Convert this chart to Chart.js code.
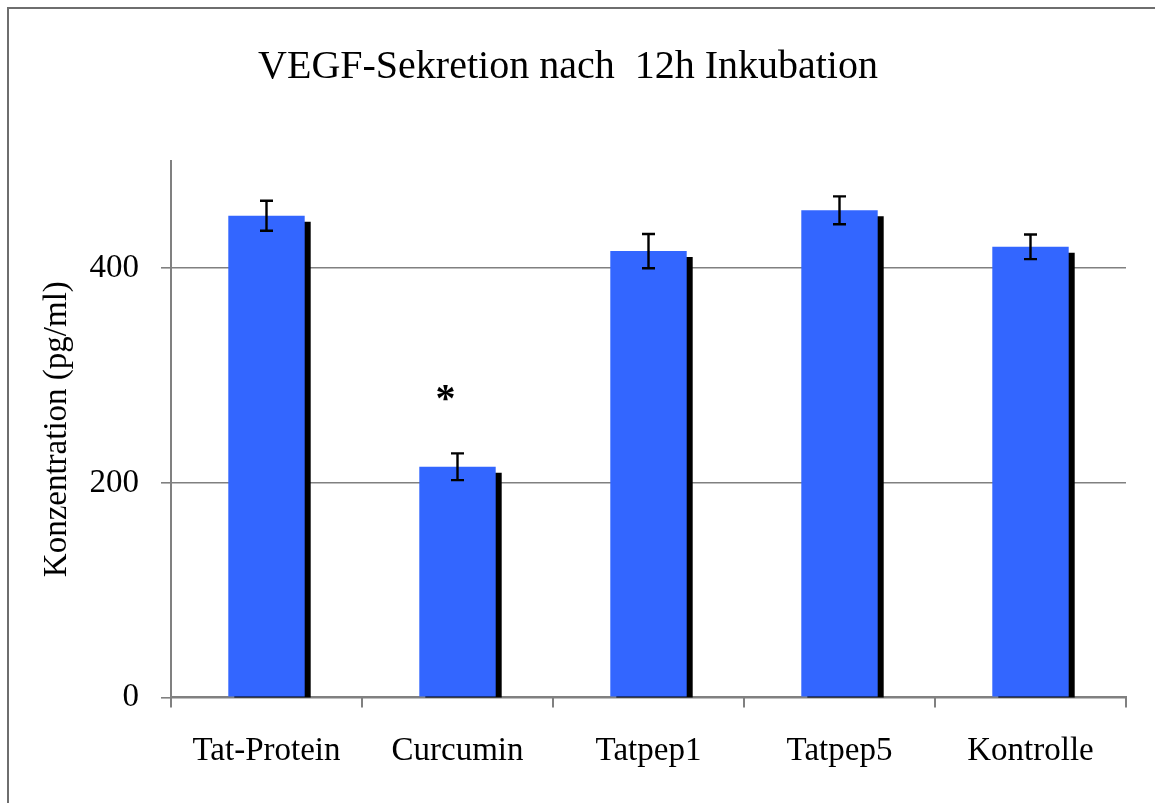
<!DOCTYPE html>
<html>
<head>
<meta charset="utf-8">
<title>VEGF-Sekretion</title>
<script src="https://cdn.jsdelivr.net/npm/chart.js@4"></script>
<style>
  body { margin: 0; background: #fff; }
  #wrap { width: 1155px; height: 803px; }
</style>
</head>
<body>
<div id="wrap"><canvas id="vegfChart" width="1155" height="803"></canvas></div>
<script>
// --- data ---
const categories = ['Tat-Protein', 'Curcumin', 'Tatpep1', 'Tatpep5', 'Kontrolle'];
const concentration = [449, 215, 416, 454, 420];   // pg/ml
const stdError = [14, 12.5, 16, 13, 11.5];
const yTicks = [0, 200, 400];
const significant = ['Curcumin'];   // marked with *
const starLevel = 274;              // where the * sits on the y scale

const serif = "'Liberation Serif', 'Times New Roman', serif";
const axisGray = '#808080';

// thin frame at top and left, like the original figure
const framePlugin = {
  id: 'frame',
  beforeDraw(chart) {
    const c = chart.ctx;
    c.save();
    c.strokeStyle = '#6e6e6e';
    c.lineWidth = 2;
    c.beginPath();
    c.moveTo(8, chart.height);
    c.lineTo(8, 8);
    c.lineTo(chart.width, 8);
    c.stroke();
    c.restore();
  }
};

// black drop shadow behind the bars
const shadowPlugin = {
  id: 'barShadow',
  beforeDatasetDraw(chart) {
    const c = chart.ctx;
    c.save();
    c.shadowColor = '#000';
    c.shadowOffsetX = 6;
    c.shadowOffsetY = 6;
    c.shadowBlur = 0;
  },
  afterDatasetDraw(chart) {
    chart.ctx.restore();
  }
};

// error bars + significance star
const errorPlugin = {
  id: 'errorBars',
  afterDatasetsDraw(chart) {
    const c = chart.ctx;
    const y = chart.scales.y;
    const x = chart.scales.x;
    const meta = chart.getDatasetMeta(0);
    c.save();
    c.strokeStyle = '#000';
    c.lineWidth = 2.4;
    meta.data.forEach((bar, i) => {
      const hi = y.getPixelForValue(concentration[i] + stdError[i]);
      const lo = y.getPixelForValue(concentration[i] - stdError[i]);
      c.beginPath();
      c.moveTo(bar.x, hi); c.lineTo(bar.x, lo);
      c.moveTo(bar.x - 6.5, hi); c.lineTo(bar.x + 6.5, hi);
      c.moveTo(bar.x - 6.5, lo); c.lineTo(bar.x + 6.5, lo);
      c.stroke();
    });
    // asterisk, glyph box centred on the target point
    c.fillStyle = '#000';
    c.font = 'bold 40px ' + serif;
    c.textAlign = 'center';
    c.textBaseline = 'alphabetic';
    significant.forEach(name => {
      const i = categories.indexOf(name);
      const cx = x.getPixelForValue(i) - 12;
      const cy = y.getPixelForValue(starLevel);
      const m = c.measureText('*');
      const h = m.actualBoundingBoxAscent - m.actualBoundingBoxDescent;
      c.fillText('*', cx, cy + m.actualBoundingBoxAscent - h / 2);
    });
    c.restore();
  }
};

new Chart(document.getElementById('vegfChart'), {
  type: 'bar',
  data: {
    labels: categories,
    datasets: [{
      data: concentration,
      backgroundColor: '#3366ff',
      borderWidth: 0,
      categoryPercentage: 1,
      barPercentage: 0.4
    }]
  },
  options: {
    responsive: false,
    animation: false,
    events: [],
    layout: { padding: { left: 10, right: 29, top: 0, bottom: 8 } },
    plugins: {
      legend: { display: false },
      tooltip: { enabled: false },
      title: {
        display: true,
        text: 'VEGF-Sekretion nach  12h Inkubation',
        color: '#000',
        font: { family: serif, size: 40, weight: 'normal' },
        padding: { top: 43, bottom: 70 }
      }
    },
    scales: {
      x: {
        grid: { drawOnChartArea: false, tickLength: 10, color: axisGray, lineWidth: 2, offset: true },
        border: { color: axisGray, width: 2 },
        ticks: { color: '#000', font: { family: serif, size: 33 }, padding: 24, maxRotation: 0 }
      },
      y: {
        min: 0,
        max: 500,
        afterBuildTicks(scale) { scale.ticks = yTicks.map(v => ({ value: v })); },
        afterFit(scale) { scale.width = 161; },
        grid: { color: axisGray, lineWidth: 1.6, tickLength: 10 },
        border: { color: axisGray, width: 2 },
        ticks: { color: '#000', font: { family: serif, size: 33 }, padding: 22 },
        title: {
          display: true,
          text: 'Konzentration (pg/ml)',
          color: '#000',
          font: { family: serif, size: 33 },
          padding: { top: 28, bottom: 0 }
        }
      }
    }
  },
  plugins: [framePlugin, shadowPlugin, errorPlugin]
});
</script>
</body>
</html>
